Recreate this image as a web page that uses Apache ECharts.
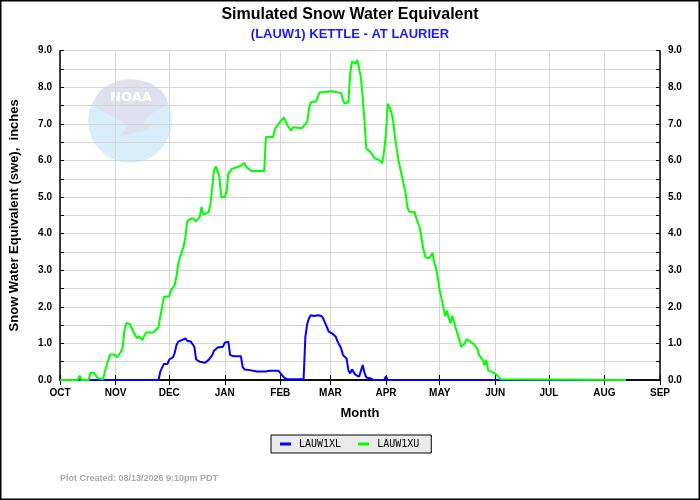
<!DOCTYPE html>
<html>
<head>
<meta charset="utf-8">
<script src="https://cdn.jsdelivr.net/npm/echarts@6/dist/echarts.min.js"></script>
<style>
html,body{margin:0;padding:0;background:#fff;}
#chart{width:700px;height:500px;}
</style>
</head>
<body>
<div id="chart"></div>
<script>
// Month tick labels and the day index (from Oct 1) where each month starts
const monthLabels = ['OCT','NOV','DEC','JAN','FEB','MAR','APR','MAY','JUN','JUL','AUG','SEP'];
const monthStartDay = [0,31,61,92,123,151,182,212,243,273,304,335];
const dayCategories = Array.from({length: 336}, (_, i) => String(i));

// LAUW1XL (blue): [day index, swe inches]
const lauw1xl = [[0,0],[26,0],[27,0.03],[28,0],[32,0],[33,0.02],[34,0],[55,0],[56,0.23],[58,0.44],[60,0.44],[61,0.56],[63,0.62],[64,0.73],[65,0.95],[66,1.05],[68,1.09],[70,1.14],[71,1.07],[73,1.05],[75,0.91],[76,0.56],[78,0.5],[81,0.47],[83,0.55],[85,0.68],[86,0.8],[88,0.89],[91,0.91],[92,1.02],[94,1.05],[95,0.68],[97,0.65],[101,0.65],[102,0.35],[103,0.29],[106,0.27],[110,0.23],[115,0.23],[117,0.25],[122,0.25],[123,0.2],[125,0.07],[127,0.02],[136,0.02],[137,1.18],[138,1.53],[139,1.68],[140,1.77],[142,1.75],[144,1.77],[145,1.82],[146,1.75],[147,1.68],[148,1.56],[149,1.45],[150,1.32],[152,1.27],[154,1.18],[155,1.05],[157,0.86],[158,0.68],[160,0.59],[161,0.27],[162,0.18],[163,0.29],[164,0.34],[165,0.14],[167,0.09],[168,0.05],[169,0.41],[170,0.2],[171,0.07],[173,0.05],[175,0],[181,0],[182,0.1],[183,0],[316,0]];

// LAUW1XU (green): [day index, swe inches]
const lauw1xu = [[0,0],[10,0],[11,0.12],[12,0],[16,0],[17,0.2],[18,0.25],[19,0.2],[21,0.05],[24,0.02],[26,0.4],[28,0.7],[30,0.7],[32,0.62],[34,0.77],[35,0.9],[36,1.36],[37,1.56],[39,1.53],[41,1.32],[43,1.14],[44,1.2],[46,1.09],[48,1.3],[52,1.3],[55,1.44],[56,1.73],[57,2.0],[58,2.27],[61,2.29],[62,2.45],[64,2.59],[65,2.82],[66,3.18],[67,3.36],[69,3.64],[70,3.91],[71,4.32],[72,4.38],[74,4.42],[76,4.34],[78,4.45],[79,4.73],[80,4.52],[83,4.59],[84,4.82],[85,5.27],[86,5.73],[87,5.84],[88,5.89],[89,5.55],[90,5.0],[92,5.0],[93,5.14],[94,5.64],[96,5.77],[98,5.8],[101,5.86],[103,5.93],[104,5.82],[107,5.71],[114,5.71],[115,6.64],[119,6.64],[120,6.86],[122,7.0],[125,7.18],[126,7.21],[127,6.95],[129,6.82],[130,6.91],[135,6.88],[138,7.05],[139,7.41],[140,7.59],[143,7.62],[145,7.86],[146,7.89],[152,7.89],[153,7.84],[157,7.84],[158,7.64],[159,7.56],[161,7.59],[162,8.36],[163,8.71],[165,8.64],[166,8.75],[167,8.71],[168,8.27],[169,7.73],[170,7.09],[171,6.32],[173,6.25],[174,6.2],[176,6.05],[178,6.02],[180,5.93],[181,6.27],[182,6.73],[183,7.55],[184,7.45],[185,7.32],[186,7.09],[187,6.64],[189,6.0],[191,5.55],[193,5.09],[194,4.72],[195,4.6],[196,4.65],[198,4.59],[199,4.41],[201,4.14],[202,3.82],[203,3.55],[204,3.36],[206,3.32],[207,3.36],[208,3.47],[209,3.2],[210,3.05],[211,2.77],[212,2.45],[214,2.0],[215,1.75],[216,1.9],[217,1.7],[218,1.55],[219,1.75],[220,1.6],[221,1.41],[223,1.09],[224,0.91],[225,0.89],[226,1.0],[227,1.12],[229,1.05],[231,0.98],[233,0.86],[234,0.68],[236,0.55],[237,0.4],[238,0.55],[239,0.27],[242,0.2],[244,0.14],[246,0.02],[316,0]];

const yMin = 0, yMax = 9, yStep = 0.5;

const chart = echarts.init(document.getElementById('chart'), null, {renderer: 'canvas'});
const FONT = 'Liberation Sans, Arial, sans-serif';
const isMonth = (idx) => monthStartDay.indexOf(idx) >= 0;

const yAxisCommon = {
  type: 'value', min: yMin, max: yMax, interval: yStep,
  axisLine: {show: true, lineStyle: {color: '#000', width: 1.5}},
  axisTick: {show: true, inside: true, length: 4, lineStyle: {color: '#000'}},
  axisLabel: {
    color: '#000', fontFamily: FONT, fontWeight: 'bold', fontSize: 10, margin: 8,
    formatter: v => (Math.abs(v - Math.round(v)) < 1e-6 ? v.toFixed(1) : '')
  }
};

chart.setOption({
  animation: false,
  backgroundColor: '#fff',
  title: [
    {text: 'Simulated Snow Water Equivalent', left: 'center', top: 2,
     textStyle: {fontFamily: FONT, fontSize: 16, fontWeight: 'bold', color: '#000'}},
    {text: '(LAUW1) KETTLE - AT LAURIER', left: 'center', top: 23,
     textStyle: {fontFamily: FONT, fontSize: 13, fontWeight: 'bold', color: '#1a1aff'}}
  ],
  grid: {left: 60, right: 40, top: 50.7, bottom: 120, containLabel: false},
  legend: {
    data: ['LAUW1XL', 'LAUW1XU'],
    left: 271, top: 435,
    backgroundColor: '#ebebeb', borderColor: '#000', borderWidth: 1,
    padding: [4, 12, 4, 9], itemGap: 17, itemWidth: 11, itemHeight: 3,
    icon: 'rect',
    textStyle: {fontFamily: 'DejaVu Sans Mono, monospace', fontSize: 10, color: '#000', padding: [0, 0, 0, 3]}
  },
  xAxis: [
    {
      type: 'category', data: dayCategories, boundaryGap: false, position: 'bottom',
      name: 'Month', nameLocation: 'middle', nameGap: 27,
      nameTextStyle: {fontFamily: FONT, fontWeight: 'bold', fontSize: 13, color: '#000'},
      axisLine: {show: true, onZero: false, lineStyle: {color: '#000', width: 1.5}},
      axisTick: {show: true, inside: true, length: 5, interval: (i) => isMonth(i), lineStyle: {color: '#000'}},
      axisLabel: {
        show: true, interval: (i) => isMonth(i), margin: 8,
        color: '#000', fontFamily: FONT, fontWeight: 'bold', fontSize: 10,
        formatter: (v) => { const k = monthStartDay.indexOf(Number(v)); return k >= 0 ? monthLabels[k] : ''; }
      },
      splitLine: {show: true, interval: (i) => isMonth(i), lineStyle: {color: '#d6d6d6', width: 1}}
    },
    {
      type: 'category', data: dayCategories, boundaryGap: false, position: 'top',
      axisLine: {show: true, lineStyle: {color: '#000', width: 1.5}},
      axisTick: {show: true, inside: true, length: 5, interval: (i) => isMonth(i), lineStyle: {color: '#000'}},
      axisLabel: {show: false},
      splitLine: {show: false}
    }
  ],
  yAxis: [
    Object.assign({}, yAxisCommon, {
      position: 'left',
      name: 'Snow Water Equivalent (swe),  inches', nameLocation: 'middle', nameGap: 39, nameRotate: 90,
      nameTextStyle: {fontFamily: FONT, fontWeight: 'bold', fontSize: 13, color: '#000'},
      splitLine: {show: true, lineStyle: {color: '#d6d6d6', width: 1}}
    }),
    Object.assign({}, yAxisCommon, {position: 'right', splitLine: {show: false}})
  ],
  series: [
    {name: 'LAUW1XL', type: 'line', data: lauw1xl, showSymbol: false, symbol: 'none',
     color: '#0000ff', lineStyle: {color: '#0000ff', width: 2}, z: 3},
    {name: 'LAUW1XU', type: 'line', data: lauw1xu, showSymbol: false, symbol: 'none',
     color: '#00ff00', lineStyle: {color: '#00ff00', width: 2}, z: 4}
  ],
  graphic: [
    {type: 'circle', z: -10, shape: {cx: 130, cy: 121, r: 42}, style: {fill: '#daeef9'}, silent: true},
    {type: 'polygon', z: -9, silent: true,
     shape: {points: [[94,106],[96,97],[102,89],[112,83],[124,80],[138,80],[150,83],[160,89],[166,97],[168,104],[162,108],[154,112],[147,118],[143,124],[152,126],[144,131],[130,134],[118,137],[125,130],[127,125],[119,120],[108,114],[100,110]]},
     style: {fill: '#dfe1ee'}},
    {type: 'text', z: -8, silent: true, x: 131, y: 98,
     style: {text: 'NOAA', fill: '#ffffff', font: 'bold 13px DejaVu Sans', textAlign: 'center', textVerticalAlign: 'middle'}},
    {type: 'text', silent: true, x: 60, y: 479,
     style: {text: 'Plot Created: 08/13/2026 9:10pm PDT', fill: '#aaaaaa', font: 'bold 9px Liberation Sans', textAlign: 'left', textVerticalAlign: 'middle'}},
    {type: 'rect', silent: true, shape: {x: 0.75, y: 0.75, width: 698.5, height: 498.5},
     style: {fill: 'none', stroke: '#000', lineWidth: 1.5}}
  ]
});
</script>
</body>
</html>
